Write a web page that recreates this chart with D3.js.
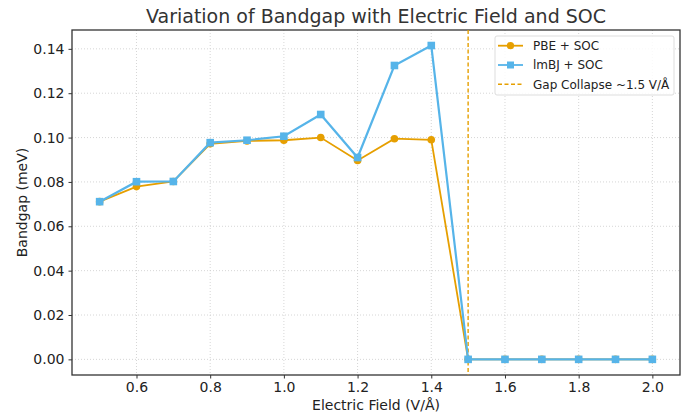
<!DOCTYPE html>
<html>
<head>
<meta charset="utf-8">
<script src="https://cdn.jsdelivr.net/npm/d3@7"></script>
<style>
  html, body { margin: 0; padding: 0; background: #fff; }
  text { font-family: 'DejaVu Sans', sans-serif; }
</style>
</head>
<body>
<div class="svg"></div>
<script>
const fields = [0.5, 0.6, 0.7, 0.8, 0.9, 1.0, 1.1, 1.2, 1.3, 1.4, 1.5, 1.6, 1.7, 1.8, 1.9, 2.0]
const pbeSoc = [0.0711, 0.0779, 0.0802, 0.0972, 0.0985, 0.0988, 0.1000, 0.0897, 0.0995, 0.0990, 0, 0, 0, 0, 0, 0]
const mbjSoc = [0.0711, 0.0801, 0.0802, 0.0977, 0.0988, 0.1006, 0.1104, 0.0910, 0.1325, 0.1415, 0, 0, 0, 0, 0, 0]
const xTicks = [0.6, 0.8, 1.0, 1.2, 1.4, 1.6, 1.8, 2.0]
const yTicks = [0, 0.02, 0.04, 0.06, 0.08, 0.1, 0.12, 0.14]
const collapseField = 1.5

;(function init() {
  const width = 696
  const height = 417
  const margin = { top: 30, right: 16, bottom: 42, left: 72 }
  const orange = '#E69F00'
  const blue = '#56B4E9'
  const frame = '#333333'

  const x = d3.scaleLinear().domain([0.425, 2.075]).range([margin.left, width - margin.right])
  const y = d3.scaleLinear().domain([-0.00705, 0.1485]).range([height - margin.bottom, margin.top])

  const svg = d3
    .select('.svg')
    .append('svg')
    .attr('width', width)
    .attr('height', height)
    .attr('viewBox', [0, 0, width, height])

  // grid
  svg.append('g')
    .selectAll('line')
    .data(xTicks)
    .join('line')
    .attr('x1', (d) => x(d)).attr('x2', (d) => x(d))
    .attr('y1', margin.top).attr('y2', height - margin.bottom)
    .attr('stroke', '#cccccc').attr('stroke-width', 0.8).attr('stroke-dasharray', '1,2')
  svg.append('g')
    .selectAll('line')
    .data(yTicks)
    .join('line')
    .attr('y1', (d) => y(d)).attr('y2', (d) => y(d))
    .attr('x1', margin.left).attr('x2', width - margin.right)
    .attr('stroke', '#cccccc').attr('stroke-width', 0.8).attr('stroke-dasharray', '1,2')

  // axes
  const xAxis = svg.append('g')
    .attr('transform', `translate(0,${height - margin.bottom})`)
    .call(d3.axisBottom(x).tickValues(xTicks).tickFormat(d3.format('.1f')).tickSize(3.5).tickPadding(4))
  const yAxis = svg.append('g')
    .attr('transform', `translate(${margin.left},0)`)
    .call(d3.axisLeft(y).tickValues(yTicks).tickFormat(d3.format('.2f')).tickSize(3.5).tickPadding(4))
  for (const a of [xAxis, yAxis]) {
    a.select('.domain').remove()
    a.selectAll('line').attr('stroke', frame).attr('stroke-width', 1)
    a.selectAll('text').attr('fill', '#222').style('font-size', '14px').style('font-family', 'DejaVu Sans')
  }

  // frame
  svg.append('rect')
    .attr('x', margin.left).attr('y', margin.top)
    .attr('width', width - margin.left - margin.right)
    .attr('height', height - margin.top - margin.bottom)
    .attr('fill', 'none').attr('stroke', frame).attr('stroke-width', 1.3)

  // collapse line
  svg.append('line')
    .attr('x1', x(collapseField)).attr('x2', x(collapseField))
    .attr('y1', margin.top).attr('y2', height - margin.bottom)
    .attr('stroke', orange).attr('stroke-width', 1.4).attr('stroke-dasharray', '4,2.5')

  const line = d3.line().x((d) => x(d[0])).y((d) => y(d[1]))
  const pbe = fields.map((f, i) => [f, pbeSoc[i]])
  const mbj = fields.map((f, i) => [f, mbjSoc[i]])

  svg.append('path').attr('d', line(pbe)).attr('fill', 'none').attr('stroke', orange).attr('stroke-width', 1.8)
  svg.append('g').selectAll('circle').data(pbe).join('circle')
    .attr('cx', (d) => x(d[0])).attr('cy', (d) => y(d[1])).attr('r', 3.8).attr('fill', orange)

  svg.append('path').attr('d', line(mbj)).attr('fill', 'none').attr('stroke', blue).attr('stroke-width', 2.2)
  svg.append('g').selectAll('rect').data(mbj).join('rect')
    .attr('x', (d) => x(d[0]) - 3.8).attr('y', (d) => y(d[1]) - 3.8)
    .attr('width', 7.6).attr('height', 7.6).attr('fill', blue)

  // labels
  svg.append('text')
    .attr('x', (margin.left + width - margin.right) / 2).attr('y', 23)
    .attr('text-anchor', 'middle').attr('fill', '#333').style('font-size', '19px')
    .text('Variation of Bandgap with Electric Field and SOC')
  svg.append('text')
    .attr('x', (margin.left + width - margin.right) / 2).attr('y', 410)
    .attr('text-anchor', 'middle').attr('fill', '#222').style('font-size', '14px')
    .text('Electric Field (V/Å)')
  svg.append('text')
    .attr('transform', `translate(27,${(margin.top + height - margin.bottom) / 2}) rotate(-90)`)
    .attr('text-anchor', 'middle').attr('fill', '#222').style('font-size', '14px')
    .text('Bandgap (meV)')

  // legend
  const lg = svg.append('g').attr('transform', 'translate(495,36)')
  lg.append('rect').attr('width', 179).attr('height', 59).attr('rx', 2)
    .attr('fill', '#fff').attr('fill-opacity', 0.85).attr('stroke', '#dddddd').attr('stroke-width', 1)
  const items = [
    { label: 'PBE + SOC', color: orange, marker: 'circle' },
    { label: 'lmBJ + SOC', color: blue, marker: 'square' },
    { label: 'Gap Collapse ~1.5 V/Å', color: orange, marker: 'dash' }
  ]
  items.forEach((it, i) => {
    const cy = 9.7 + i * 19.3
    const g = lg.append('g').attr('transform', `translate(0,${cy})`)
    if (it.marker === 'dash') {
      g.append('line').attr('x1', 3).attr('x2', 28).attr('y1', 0).attr('y2', 0)
        .attr('stroke', it.color).attr('stroke-width', 1.4).attr('stroke-dasharray', '4,2.5')
    } else {
      g.append('line').attr('x1', 3).attr('x2', 28).attr('y1', 0).attr('y2', 0)
        .attr('stroke', it.color).attr('stroke-width', 1.8)
      if (it.marker === 'circle') {
        g.append('circle').attr('cx', 15.5).attr('cy', 0).attr('r', 3.6).attr('fill', it.color)
      } else {
        g.append('rect').attr('x', 12).attr('y', -3.5).attr('width', 7).attr('height', 7).attr('fill', it.color)
      }
    }
    g.append('text').attr('x', 38).attr('y', 0).attr('dy', '0.35em')
      .attr('fill', '#222').style('font-size', '12px').text(it.label)
  })
})()
</script>
</body>
</html>
